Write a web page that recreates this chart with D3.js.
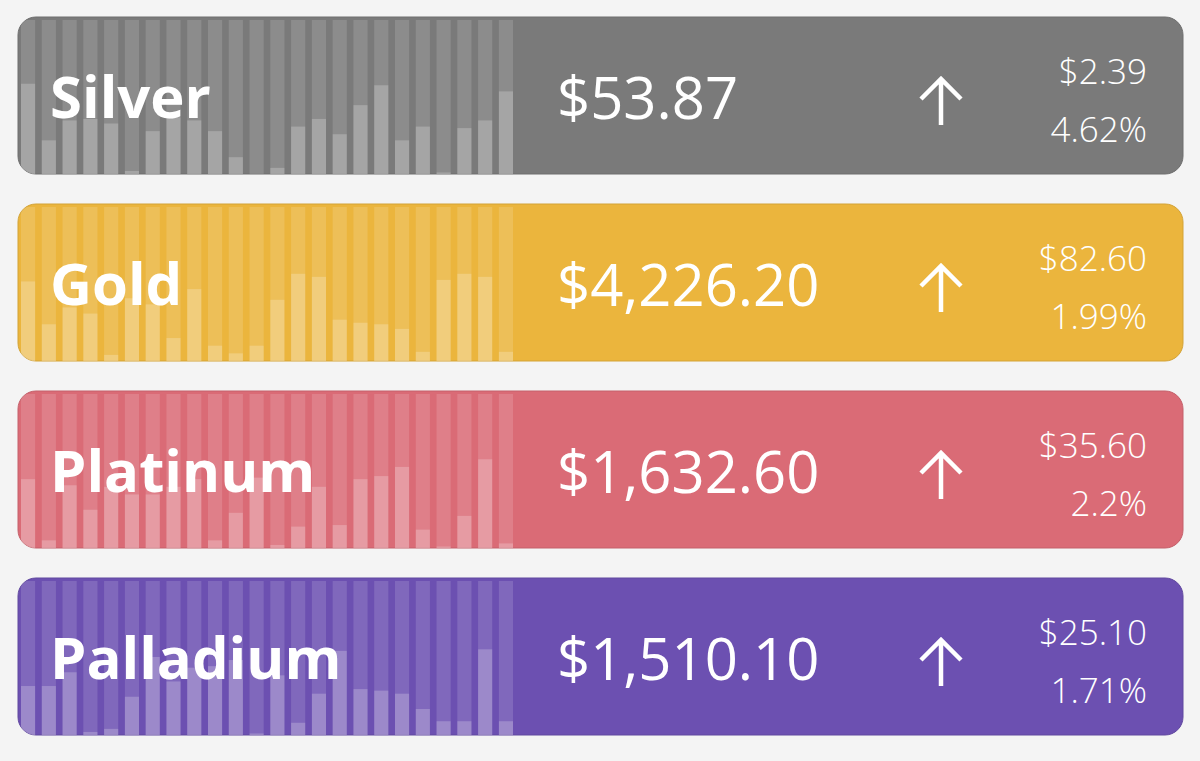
<!DOCTYPE html>
<html>
<head>
<meta charset="utf-8">
<script src="https://cdn.jsdelivr.net/npm/d3@7"></script>
<style>
  body { margin: 0; background: #f4f4f4; }
  text { font-family: "Open Sans", "Noto Sans", sans-serif; fill: #fff; }
</style>
</head>
<body>
<script>
const metals = ["Silver", "Gold", "Platinum", "Palladium"];
const prices = ["$53.87", "$4,226.20", "$1,632.60", "$1,510.10"];
const changes = ["$2.39", "$82.60", "$35.60", "$25.10"];
const percents = ["4.62%", "1.99%", "2.2%", "1.71%"];
const colors = ["#7a7a7a", "#ebb53d", "#da6b76", "#6c50b1"];

// recent history, relative height per bar
const silverHist = [0.59, 0.22, 0.35, 0.36, 0.33, 0.02, 0.28, 0.37, 0.35, 0.28, 0.11, 0.0,
                    0.04, 0.31, 0.36, 0.26, 0.45, 0.58, 0.22, 0.31, 0.01, 0.30, 0.35, 0.54];
const goldHist = [0.52, 0.24, 0.35, 0.31, 0.04, 0.41, 0.37, 0.15, 0.47, 0.10, 0.05, 0.10,
                  0.40, 0.57, 0.55, 0.27, 0.25, 0.24, 0.21, 0.06, 0.53, 0.57, 0.55, 0.06];
const platinumHist = [0.45, 0.05, 0.41, 0.25, 0.40, 0.35, 0.35, 0.40, 0.45, 0.05, 0.23, 0.46,
                      0.02, 0.14, 0.40, 0.15, 0.45, 0.47, 0.53, 0.12, 0.01, 0.21, 0.58, 0.03];
const palladiumHist = [0.32, 0.32, 0.41, 0.02, 0.04, 0.25, 0.51, 0.35, 0.44, 0.45, 0.49, 0.01,
                       0.39, 0.08, 0.27, 0.55, 0.30, 0.29, 0.27, 0.17, 0.09, 0.09, 0.56, 0.09];
const histories = [silverHist, goldHist, platinumHist, palladiumHist];

const width = 1200, height = 761;
const cardX = 18, cardW = 1165, cardH = 157;
const cardTops = [17, 204, 391, 578];

const svg = d3.select("body").append("svg")
    .attr("width", width)
    .attr("height", height);

const x = d3.scaleBand()
    .domain(d3.range(24))
    .range([21, 513])
    .paddingInner(0.32)
    .paddingOuter(0);

const y = d3.scaleLinear().domain([0, 1]).range([0, 153]);

metals.forEach((name, i) => {
    const top = cardTops[i];
    const g = svg.append("g").attr("transform", `translate(0,${top})`);

    const clipId = "clip" + i;
    g.append("clipPath").attr("id", clipId)
        .append("rect")
        .attr("x", cardX).attr("y", 0)
        .attr("width", cardW).attr("height", cardH)
        .attr("rx", 18);

    g.append("rect")
        .attr("x", cardX).attr("y", 0)
        .attr("width", cardW).attr("height", cardH)
        .attr("rx", 18)
        .style("fill", colors[i])
        .style("stroke", d3.color(colors[i]).darker(0.3))
        .style("stroke-width", 1);

    const bars = g.append("g").attr("clip-path", `url(#${clipId})`);
    // background strips
    bars.selectAll(".bg")
        .data(histories[i])
        .enter()
        .append("rect")
        .attr("x", (d, j) => x(j))
        .attr("y", 3)
        .attr("width", x.bandwidth())
        .attr("height", cardH - 3)
        .style("fill", "#fff")
        .style("opacity", 0.14);
    // value bars
    bars.selectAll(".val")
        .data(histories[i])
        .enter()
        .append("rect")
        .attr("x", (d, j) => x(j))
        .attr("y", d => cardH - y(d))
        .attr("width", x.bandwidth())
        .attr("height", d => y(d))
        .style("fill", "#fff")
        .style("opacity", 0.22);

    g.append("text")
        .attr("x", 50).attr("y", 101)
        .style("font-size", "58px")
        .style("font-weight", 700)
        .text(name);

    g.append("text")
        .attr("x", 557).attr("y", 102)
        .style("font-size", "58px")
        .text(prices[i]);

    // up arrow
    g.append("path")
        .attr("d", "M941,108 L941,62 M921,82 L941,62 L961,82")
        .style("fill", "none")
        .style("stroke", "#fff")
        .style("stroke-width", 4.5);

    g.append("text")
        .attr("x", 1147).attr("y", 67)
        .attr("text-anchor", "end")
        .style("font-size", "35px")
        .style("font-weight", 300)
        .text(changes[i]);

    g.append("text")
        .attr("x", 1147).attr("y", 125)
        .attr("text-anchor", "end")
        .style("font-size", "35px")
        .style("font-weight", 300)
        .text(percents[i]);
});
</script>
</body>
</html>
